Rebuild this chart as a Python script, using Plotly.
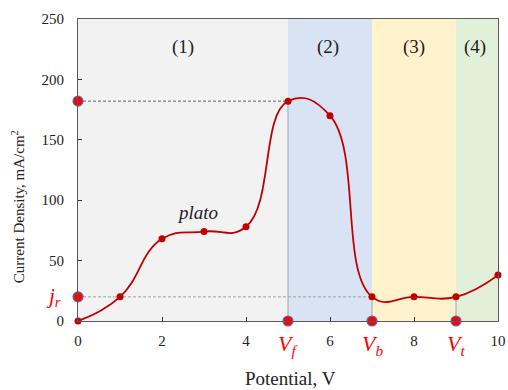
import plotly.graph_objects as go

# Data
potential = [0, 1, 2, 3, 4, 5, 6, 7, 8, 9, 10]
current = [0, 20, 68, 74, 78, 182, 170, 20, 20, 20, 38]

region_bounds = [0, 5, 7, 9, 10]
region_colors = ["#f2f2f2", "#dae3f3", "#fff2cc", "#e2f0d9"]
region_labels = ["(1)", "(2)", "(3)", "(4)"]
region_label_x = [2.5, 5.95, 8.0, 9.45]

V_f, V_b, V_t = 5, 7, 9
j_peak, j_r = 182, 20

x_ticks = [0, 2, 4, 6, 8, 10]
y_ticks = [0, 50, 100, 150, 200, 250]

SERIF = "Liberation Serif"

fig = go.Figure()

# region backgrounds
shapes = []
for i in range(len(region_colors)):
    shapes.append(dict(type="rect", xref="x", yref="y", x0=region_bounds[i], x1=region_bounds[i + 1],
                       y0=0, y1=250, fillcolor=region_colors[i], line=dict(width=0), layer="below"))
fig.update_layout(shapes=shapes)

# drop lines
for vx, vy in [(V_f, j_peak), (V_b, j_r), (V_t, j_r)]:
    fig.add_trace(go.Scatter(x=[vx, vx], y=[0, vy], mode="lines",
                             line=dict(color="#a6a6a6", width=1), hoverinfo="skip", showlegend=False))

# dashed guides
fig.add_trace(go.Scatter(x=[0, V_f], y=[j_peak, j_peak], mode="lines",
                         line=dict(color="#404040", width=0.8, dash="3px,2px"), showlegend=False))
fig.add_trace(go.Scatter(x=[0, V_b], y=[j_r, j_r], mode="lines",
                         line=dict(color="#a0a0a0", width=1, dash="3px,2px"), showlegend=False))

# main curve
fig.add_trace(go.Scatter(x=potential, y=current, mode="lines+markers",
                         line=dict(color="#c00000", width=1.8, shape="spline", smoothing=1.3),
                         marker=dict(color="#c00000", size=7), cliponaxis=False, showlegend=False))

# axis markers
fig.add_trace(go.Scatter(x=[0, 0, V_f, V_b, V_t], y=[j_peak, j_r, 0, 0, 0], mode="markers",
                         marker=dict(color="#ff0000", size=10, line=dict(color="#5b6bb0", width=1.2)),
                         cliponaxis=False, showlegend=False))

annotations = []
for lx, lab in zip(region_label_x, region_labels):
    annotations.append(dict(x=lx, y=227, xref="x", yref="y", text=lab, showarrow=False,
                            font=dict(family=SERIF, size=19, color="#222")))
annotations.append(dict(x=2.85, y=90, xref="x", yref="y", text="<i>plato</i>", showarrow=False,
                        font=dict(family=SERIF, size=19, color="#222")))
for vx, sub in [(V_f, "f"), (V_b, "b"), (V_t, "t")]:
    annotations.append(dict(x=vx, y=-0.08, xref="x", yref="paper", text=f"<i>V<sub>{sub}</sub></i>",
                            showarrow=False, yanchor="middle",
                            font=dict(family=SERIF, size=22, color="#ff0000")))
annotations.append(dict(x=-0.036, y=j_r, xref="paper", yref="y", text="<i>j<sub>r</sub></i>",
                        showarrow=False, xanchor="right", yanchor="middle",
                        font=dict(family=SERIF, size=21, color="#ff0000")))
annotations.append(dict(x=-0.143, y=0.38, xref="paper", yref="paper", text="Current Density, mA/cm<sup>2</sup>",
                        textangle=-90, showarrow=False, xanchor="center", yanchor="middle",
                        font=dict(family=SERIF, size=15, color="#222")))
annotations.append(dict(x=0.505, y=-0.189, xref="paper", yref="paper", text="Potential, V",
                        showarrow=False, xanchor="center", yanchor="middle",
                        font=dict(family=SERIF, size=19, color="#222")))

fig.update_layout(
    width=508, height=390,
    margin=dict(l=78, r=10, t=19, b=69),
    plot_bgcolor="white", paper_bgcolor="white",
    annotations=annotations,
    xaxis=dict(range=[0, 10], tickvals=x_ticks, ticks="inside", ticklen=4, tickcolor="#333",
               showline=True, linecolor="#595959", linewidth=1.2, mirror=True, showgrid=False,
               zeroline=False, tickfont=dict(family=SERIF, size=15, color="#222"),
               ticklabelstandoff=6, automargin=False),
    yaxis=dict(range=[0, 250], tickvals=y_ticks, ticks="inside", ticklen=4, tickcolor="#333",
               showline=True, linecolor="#595959", linewidth=1.2, mirror=True, showgrid=False,
               zeroline=False, tickfont=dict(family=SERIF, size=15, color="#222"),
               ticklabelstandoff=10, automargin=False),
)

fig.write_html("out.html", config={"displayModeBar": False},
               post_script="document.body.style.margin='0';document.body.style.overflow='hidden';")
